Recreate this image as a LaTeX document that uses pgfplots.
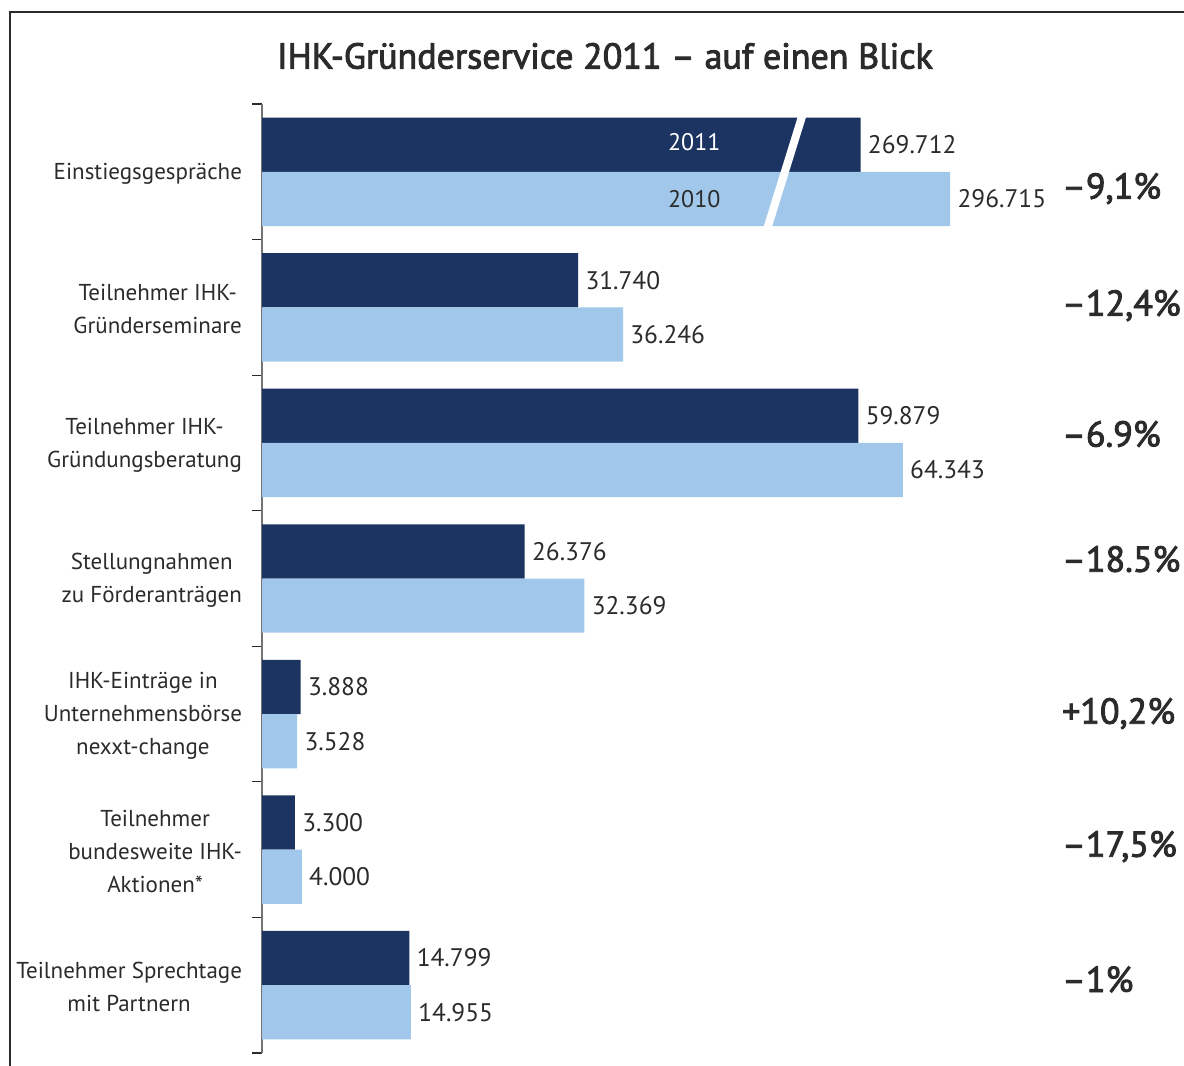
\documentclass[border=0pt]{standalone}
\usepackage{fontspec}
\setmainfont{PT Sans}
\newfontfamily\medfont[FakeBold=2.5]{PT Sans}
\usepackage{pgfplots}
\pgfplotsset{compat=1.18}
\definecolor{navy}{HTML}{1B3461}
\definecolor{lightblue}{HTML}{A1C8EA}
\definecolor{txt}{HTML}{2B2B2B}
\begin{document}
\begin{tikzpicture}
% page: 1184x1066 px at 0.5pt per px
\useasboundingbox (0,0) rectangle (592pt,533pt);
\draw[txt, line width=1pt] (5pt,0pt) -- (5pt,527pt) -- (592pt,527pt);
\node[font=\medfont\fontsize{18}{22}\selectfont, txt] at (302.5pt,505pt)
  {IHK-Gründerservice 2011 – auf einen Blick};
\begin{axis}[
    at={(131pt,6.5pt)}, anchor=south west,
    scale only axis, width=458.16pt, height=474.5pt,
    xmin=0, xmax=92, ymin=-0.5, ymax=6.5, y dir=reverse,
    xbar, bar width=0.4, bar shift=0pt,
    axis x line=none, axis y line=left,
    y axis line style={-, draw=gray!90!black, line width=0.8pt},
    ytick={0,...,6},
    yticklabels={
      Einstiegsgespräche,
      {Teilnehmer IHK-\\Gründerseminare},
      {Teilnehmer IHK-\\Gründungsberatung},
      {Stellungnahmen\\zu Förderanträgen},
      {IHK-Einträge in\\Unternehmensbörse\\nexxt-change},
      {Teilnehmer\\bundesweite IHK-\\Aktionen*},
      {Teilnehmer Sprechtage\\mit Partnern}},
    yticklabel style={align=center, font=\fontsize{11.5}{16.5}\selectfont, txt, xshift=-6.5pt, yshift=-1pt},
    major tick length=0pt,
    minor ytick={-0.5,0.5,...,6.5}, minor tick length=5pt, tick align=outside,
    minor tick style={txt, line width=0.6pt},
    nodes near coords, point meta=explicit symbolic,
    every node near coord/.append style={font=\fontsize{12.7}{14}\selectfont, txt, anchor=west, inner sep=3.5pt},
    clip=false,
]
% first group is drawn with a broken scale (display lengths), labels give the real values
\addplot[fill=navy, draw=none] coordinates {
    (60.1,-0.2) [269.712]
    (31.740,0.8) [31.740]
    (59.879,1.8) [59.879]
    (26.376,2.8) [26.376]
    (3.888,3.8) [3.888]
    (3.300,4.8) [3.300]
    (14.799,5.8) [14.799]
};
\addplot[fill=lightblue, draw=none] coordinates {
    (69.1,0.2) [296.715]
    (36.246,1.2) [36.246]
    (64.343,2.2) [64.343]
    (32.369,3.2) [32.369]
    (3.528,4.2) [3.528]
    (4.000,5.2) [4.000]
    (14.955,6.2) [14.955]
};
\draw[white, line width=4pt] (axis cs:54.4,-0.45) -- (axis cs:50.6,0.45);
\node[white, font=\fontsize{12}{14}\selectfont] at (axis cs:43.4,-0.22) {2011};
\node[txt, font=\fontsize{12}{14}\selectfont] at (axis cs:43.4,0.2) {2010};
\begin{scope}[every node/.style={anchor=base west, inner sep=0pt, txt, font=\medfont\fontsize{18}{22}\selectfont}]
\node at (axis cs:80.3,0.199) {–9,1\%};
\node at (axis cs:80.3,1.062) {–12,4\%};
\node at (axis cs:80.3,2.027) {–6.9\%};
\node at (axis cs:80.3,2.95) {–18.5\%};
\node at (axis cs:80.3,4.071) {+10,2\%};
\node at (axis cs:80.3,5.052) {–17,5\%};
\node at (axis cs:80.3,6.05) {–1\%};
\end{scope}
\end{axis}
\end{tikzpicture}
\end{document}
